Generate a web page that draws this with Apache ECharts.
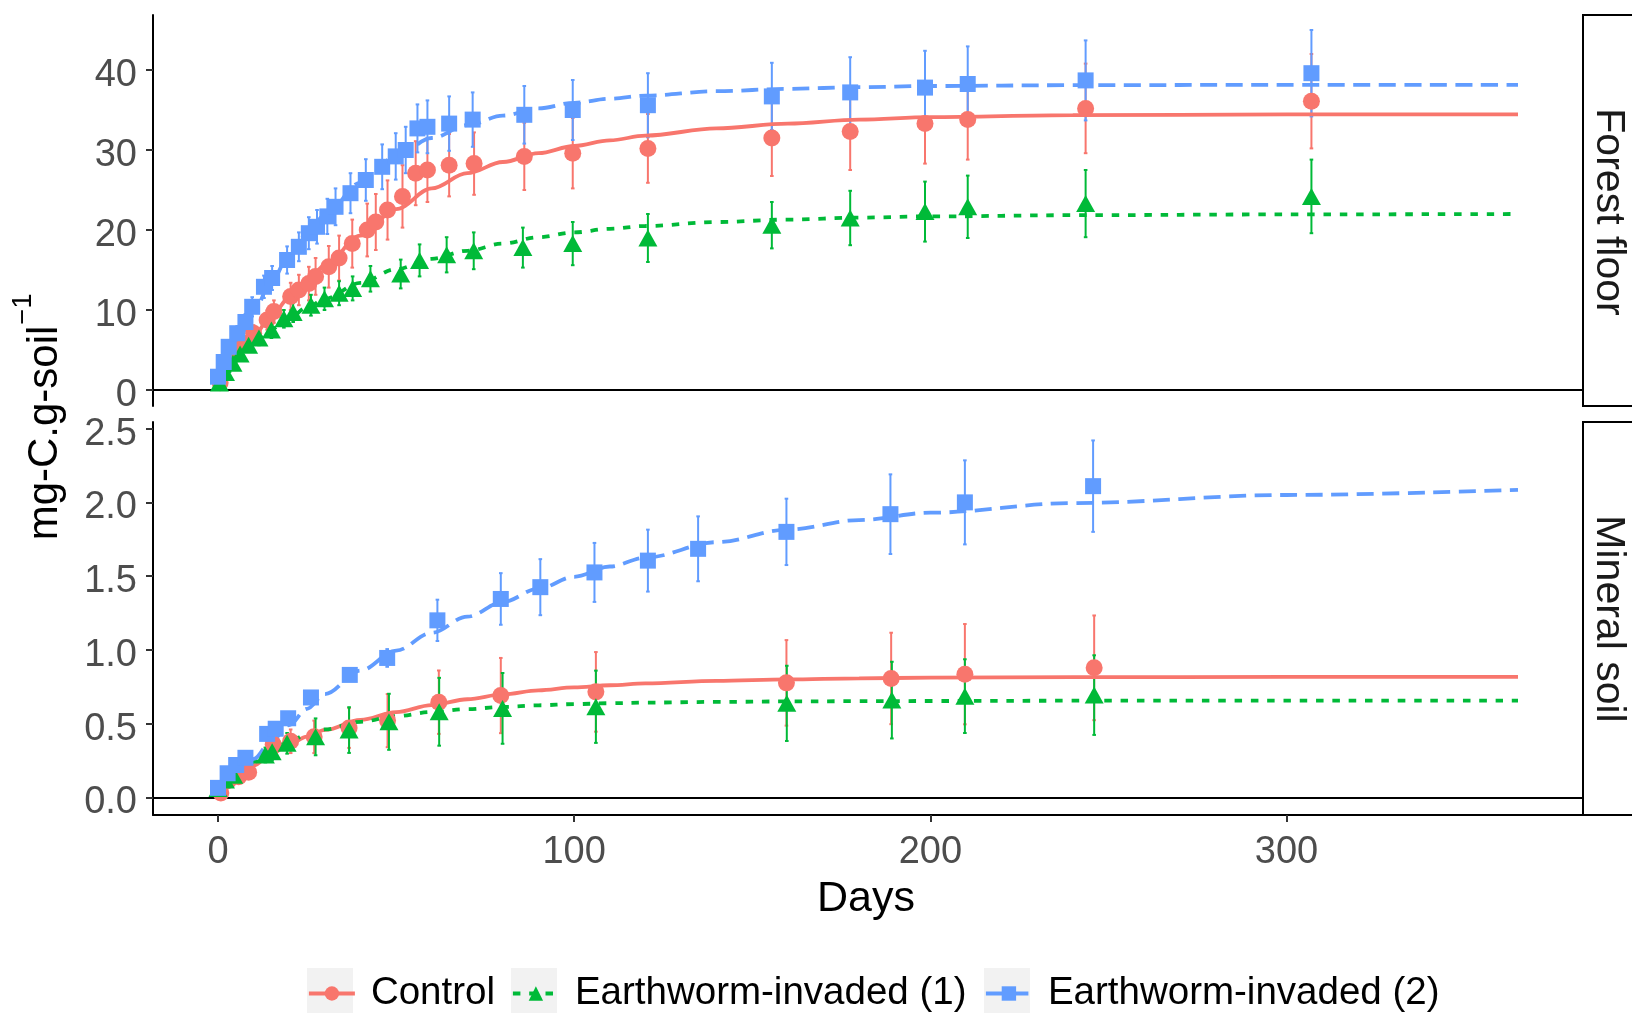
<!DOCTYPE html>
<html>
<head>
<meta charset="utf-8">
<script src="https://cdn.jsdelivr.net/npm/echarts@6/dist/echarts.min.js"></script>
<style>
  html, body { margin: 0; padding: 0; background: #ffffff; }
  #chart { width: 1632px; height: 1013px; }
</style>
</head>
<body>
<div id="chart"></div>
<script>
// ---------- axis ticks and labels ----------
const xTicks = [0, 100, 200, 300];
const forestTicks = [0, 10, 20, 30, 40];
const mineralTicks = [0, 0.5, 1.0, 1.5, 2.0, 2.5];
const treatmentNames = ['Control', 'Earthworm-invaded (1)', 'Earthworm-invaded (2)'];
const panelNames = ['Forest floor', 'Mineral soil'];

// ---------- Forest floor: cumulative C (mean, error half-width) ----------
const ffCtrlDays = [0.6, 2.5, 4.9, 7.7, 10, 13.8, 15.7, 20.4, 22.7, 25.5, 27.4, 31.1, 34, 37.7, 41.9, 44.3, 47.6, 51.8, 55.5, 58.8, 64.9, 71.9, 86, 99.6, 120.7, 155.5, 177.5, 198.5, 210.5, 243.6, 307];
const ffCtrlMean = [0.9, 3.75, 5.0, 5.8, 7.1, 8.75, 9.8, 11.7, 12.5, 13.3, 14.2, 15.4, 16.5, 18.3, 20.0, 21.0, 22.5, 24.2, 27.1, 27.5, 28.1, 28.3, 29.2, 29.6, 30.2, 31.5, 32.3, 33.3, 33.8, 35.2, 36.1];
const ffCtrlErr = [0.3, 0.5, 0.7, 0.8, 1.0, 1.2, 1.4, 1.7, 1.9, 2.1, 2.3, 2.6, 2.8, 3.0, 3.3, 3.5, 3.7, 3.9, 4.0, 4.0, 3.9, 3.9, 4.2, 4.4, 4.3, 4.75, 4.8, 5.0, 5.0, 5.6, 5.9];

const ffEw1Days = [0.4, 2.1, 4.2, 6.2, 8.6, 11.5, 15, 18.5, 21.1, 26.1, 29.9, 34, 37.8, 42.8, 51.3, 56.6, 64.2, 71.8, 85.6, 99.6, 120.7, 155.5, 177.5, 198.5, 210.5, 243.6, 307];
const ffEw1Mean = [0.87, 2.2, 3.35, 4.5, 5.6, 6.5, 7.5, 8.9, 9.7, 10.6, 11.4, 12.1, 12.7, 13.9, 14.5, 16.2, 16.9, 17.4, 17.8, 18.3, 19.0, 20.6, 21.5, 22.3, 22.9, 23.3, 24.2];
const ffEw1Err = [0.3, 0.5, 0.6, 0.7, 0.8, 0.9, 1.0, 1.1, 1.2, 1.3, 1.4, 1.5, 1.5, 1.6, 1.8, 2.0, 2.2, 2.3, 2.5, 2.7, 3.0, 2.9, 3.4, 3.75, 3.9, 4.2, 4.6];

const ffEw2Days = [0, 1.6, 3, 5.4, 7.7, 9.6, 12.9, 15.2, 19.4, 22.7, 25.5, 27.8, 30.7, 33, 37.2, 41.5, 46.1, 49.9, 52.7, 56, 58.8, 64.9, 71.5, 86, 99.6, 120.7, 155.5, 177.5, 198.5, 210.5, 243.6, 307];
const ffEw2Mean = [1.66, 3.5, 5.4, 7.1, 8.5, 10.4, 12.9, 14.0, 16.25, 17.9, 19.6, 20.4, 21.7, 22.9, 24.6, 26.25, 27.9, 29.2, 30.0, 32.7, 32.9, 33.3, 33.8, 34.4, 35.0, 35.6, 36.7, 37.2, 37.8, 38.25, 38.7, 39.6];
const ffEw2Err = [0.3, 0.5, 0.7, 0.9, 1.0, 1.2, 1.4, 1.5, 1.7, 1.8, 2.0, 2.1, 2.2, 2.3, 2.5, 2.6, 2.8, 2.9, 2.9, 3.0, 3.3, 3.4, 3.4, 3.6, 3.75, 4.0, 4.2, 4.4, 4.6, 4.7, 5.0, 5.4];

// ---------- Mineral soil: cumulative C (mean, error half-width) ----------
const msCtrlDays = [0.8, 3, 5.8, 8.6, 15.5, 20.4, 27, 36.8, 47.6, 62, 79.4, 106.1, 159.6, 189, 209.7, 246];
const msCtrlMean = [0.03, 0.115, 0.14, 0.17, 0.36, 0.38, 0.41, 0.47, 0.52, 0.645, 0.69, 0.715, 0.776, 0.806, 0.835, 0.878];
const msCtrlErr = [0.01, 0.02, 0.03, 0.035, 0.06, 0.08, 0.11, 0.135, 0.18, 0.215, 0.255, 0.27, 0.29, 0.31, 0.34, 0.355];

const msEw1Days = [0, 2.1, 4.4, 13.3, 15.2, 19.4, 27.4, 36.8, 48, 62.1, 79.9, 106.1, 159.7, 189.2, 209.7, 246];
const msEw1Mean = [0.06, 0.117, 0.15, 0.287, 0.309, 0.366, 0.41, 0.456, 0.512, 0.58, 0.603, 0.614, 0.637, 0.659, 0.686, 0.693];
const msEw1Err = [0.01, 0.02, 0.03, 0.05, 0.055, 0.07, 0.125, 0.155, 0.19, 0.23, 0.24, 0.245, 0.255, 0.26, 0.25, 0.27];

const msEw2Days = [0, 2.7, 5.1, 7.7, 13.8, 16.2, 19.7, 26.1, 37, 47.5, 61.6, 79.4, 90.5, 105.7, 120.7, 134.8, 159.6, 188.8, 209.7, 245.7];
const msEw2Mean = [0.064, 0.163, 0.219, 0.268, 0.43, 0.465, 0.536, 0.677, 0.83, 0.945, 1.2, 1.345, 1.425, 1.525, 1.605, 1.685, 1.8, 1.92, 2.0, 2.11];
const msEw2Err = [0.01, 0.015, 0.02, 0.02, 0.025, 0.03, 0.03, 0.035, 0.04, 0.06, 0.14, 0.175, 0.19, 0.2, 0.21, 0.22, 0.225, 0.27, 0.285, 0.31];

// ---------- fitted mineralisation curves ----------
const fitDays = [0, 3, 6, 10, 15, 20, 25, 30, 40, 50, 60, 70, 80, 90, 100, 110, 120, 140, 160, 180, 200, 240, 300, 365];
const ffCtrlFit = [0, 2.6, 4.7, 6.8, 9.3, 11.5, 13.6, 15.6, 19.3, 22.6, 25.2, 27.1, 28.5, 29.6, 30.5, 31.2, 31.8, 32.7, 33.3, 33.8, 34.1, 34.35, 34.45, 34.45];
const ffEw1Fit = [0, 2.3, 4.0, 5.9, 7.6, 9.0, 10.3, 11.4, 13.4, 15.1, 16.4, 17.4, 18.3, 19.1, 19.7, 20.15, 20.5, 21.0, 21.3, 21.55, 21.7, 21.85, 21.95, 22.0];
const ffEw2Fit = [0, 3.6, 6.5, 9.8, 13.6, 16.8, 19.5, 21.9, 25.9, 29.2, 31.5, 33.1, 34.3, 35.2, 35.9, 36.4, 36.8, 37.35, 37.65, 37.85, 38.0, 38.1, 38.15, 38.15];
const msCtrlFit = [0, 0.07, 0.135, 0.215, 0.295, 0.36, 0.412, 0.457, 0.525, 0.578, 0.625, 0.665, 0.698, 0.725, 0.745, 0.76, 0.772, 0.789, 0.8, 0.807, 0.811, 0.815, 0.816, 0.816];
const msEw1Fit = [0, 0.09, 0.16, 0.24, 0.32, 0.38, 0.425, 0.46, 0.512, 0.55, 0.578, 0.598, 0.613, 0.624, 0.632, 0.638, 0.642, 0.647, 0.65, 0.652, 0.653, 0.655, 0.656, 0.656];
const msEw2Fit = [0, 0.08, 0.16, 0.26, 0.38, 0.49, 0.60, 0.70, 0.86, 0.995, 1.115, 1.225, 1.325, 1.415, 1.495, 1.565, 1.625, 1.73, 1.815, 1.88, 1.93, 1.995, 2.05, 2.085];

// ---------- styling ----------
const FONT = '"Liberation Sans", Arial, sans-serif';
const colors = ['#F8766D', '#00BA38', '#619CFF'];
const symbols = ['circle', 'triangle', 'rect'];
const symbolSizes = [17, [19, 17], 16];
const dashes = ['solid', [7.5, 8.8], [17, 8.5]];

const obs = [
  [[ffCtrlDays, ffCtrlMean, ffCtrlErr], [ffEw1Days, ffEw1Mean, ffEw1Err], [ffEw2Days, ffEw2Mean, ffEw2Err]],
  [[msCtrlDays, msCtrlMean, msCtrlErr], [msEw1Days, msEw1Mean, msEw1Err], [msEw2Days, msEw2Mean, msEw2Err]]
];
const fits = [[ffCtrlFit, ffEw1Fit, ffEw2Fit], [msCtrlFit, msEw1Fit, msEw2Fit]];

function errorBarItem(params, api) {
  const x = api.value(0);
  const pLo = api.coord([x, api.value(1)]);
  const pHi = api.coord([x, api.value(2)]);
  const cap = 1.8;
  const style = { stroke: api.visual('color'), lineWidth: 2, fill: null };
  return {
    type: 'group',
    children: [
      { type: 'line', shape: { x1: pHi[0], y1: pHi[1], x2: pLo[0], y2: pLo[1] }, style: style },
      { type: 'line', shape: { x1: pHi[0] - cap, y1: pHi[1], x2: pHi[0] + cap, y2: pHi[1] }, style: style },
      { type: 'line', shape: { x1: pLo[0] - cap, y1: pLo[1], x2: pLo[0] + cap, y2: pLo[1] }, style: style }
    ]
  };
}

const series = [];
// fitted curves first, so that legend icons show line + symbol
for (let p = 0; p < 2; p++) {
  for (let t = 0; t < 3; t++) {
    const s = {
      type: 'line',
      name: treatmentNames[t],
      xAxisIndex: p,
      yAxisIndex: p,
      data: fitDays.map((d, i) => [d, fits[p][t][i]]),
      smooth: 0.35,
      smoothMonotone: 'x',
      showSymbol: false,
      symbol: symbols[t],
      symbolSize: 14,
      itemStyle: { color: colors[t] },
      lineStyle: { color: colors[t], width: 3.8, type: dashes[t], cap: 'butt' },
      silent: true,
      z: 3
    };
    if (t === 0) {
      s.markLine = {
        silent: true,
        symbol: ['none', 'none'],
        label: { show: false },
        lineStyle: { color: '#000000', width: 2, type: 'solid' },
        data: [{ yAxis: 0 }],
        z: 1
      };
    }
    series.push(s);
  }
}
for (let p = 0; p < 2; p++) {
  for (let t = 0; t < 3; t++) {
    const [days, mean, err] = obs[p][t];
    series.push({
      type: 'custom',
      name: treatmentNames[t],
      xAxisIndex: p,
      yAxisIndex: p,
      renderItem: errorBarItem,
      itemStyle: { color: colors[t] },
      encode: { x: 0, y: [1, 2] },
      data: days.map((d, i) => [d, mean[i] - err[i], mean[i] + err[i]]),
      silent: true,
      z: 2
    });
  }
}
for (let p = 0; p < 2; p++) {
  for (let t = 0; t < 3; t++) {
    const [days, mean] = obs[p][t];
    series.push({
      type: 'scatter',
      name: treatmentNames[t],
      xAxisIndex: p,
      yAxisIndex: p,
      symbol: symbols[t],
      symbolSize: symbolSizes[t],
      itemStyle: { color: colors[t], opacity: 1 },
      data: days.map((d, i) => [d, mean[i]]),
      silent: true,
      z: 4
    });
  }
}

const axisLineStyle = { color: '#000000', width: 2 };
const tickStyle = { color: '#333333', width: 2 };
const labelBase = { fontFamily: FONT, fontSize: 38, color: '#4D4D4D' };
// y labels sit a few pixels below their tick, as the text box is centred with its descent
const yLabelBase = Object.assign({ margin: 16, verticalAlign: 'top', lineHeight: 11 }, labelBase);

const xAxisBase = { type: 'value', min: -18.25, max: 383.25, splitLine: { show: false } };
const legendKeys = [307, 511, 984];

const option = {
  animation: false,
  backgroundColor: '#ffffff',
  textStyle: { fontFamily: FONT },
  grid: [
    { left: 153, top: 15, width: 1430, height: 391, outerBoundsMode: 'none' },
    { left: 153, top: 422, width: 1430, height: 393, outerBoundsMode: 'none' }
  ],
  xAxis: [
    Object.assign({}, xAxisBase, {
      gridIndex: 0,
      axisLine: { show: false },
      axisTick: { show: false },
      axisLabel: { show: false }
    }),
    Object.assign({}, xAxisBase, {
      gridIndex: 1,
      axisLine: { show: true, onZero: false, lineStyle: axisLineStyle },
      axisTick: { show: true, customValues: xTicks, length: 7, lineStyle: tickStyle },
      axisLabel: Object.assign({ customValues: xTicks, margin: 19 }, labelBase)
    })
  ],
  yAxis: [
    {
      type: 'value', gridIndex: 0, min: -2, max: 46.875,
      splitLine: { show: false },
      axisLine: { show: true, onZero: false, lineStyle: axisLineStyle },
      axisTick: { show: true, customValues: forestTicks, length: 7, lineStyle: tickStyle },
      axisLabel: Object.assign({ customValues: forestTicks }, yLabelBase)
    },
    {
      type: 'value', gridIndex: 1, min: -0.12, max: 2.545,
      splitLine: { show: false },
      axisLine: { show: true, onZero: false, lineStyle: axisLineStyle },
      axisTick: { show: true, customValues: mineralTicks, length: 7, lineStyle: tickStyle },
      axisLabel: Object.assign({
        customValues: mineralTicks,
        formatter: v => Number(v).toFixed(1)
      }, yLabelBase)
    }
  ],
  legend: treatmentNames.map((n, i) => ({
    data: [n],
    left: legendKeys[i],
    top: 974,
    padding: 0,
    itemWidth: 46,
    itemHeight: 18,
    selectedMode: false,
    lineStyle: { width: 3.8 },
    textStyle: { fontFamily: FONT, fontSize: 38.5, color: '#000000', padding: [0, 0, 0, 11] }
  })),
  graphic: [
    // legend key backgrounds
    ...legendKeys.map(x => ({
      type: 'rect', z: -1, silent: true,
      shape: { x: x, y: 968, width: 46, height: 46 },
      style: { fill: '#F2F2F2' }
    })),
    // facet strips
    {
      type: 'rect', silent: true,
      shape: { x: 1583, y: 15, width: 80, height: 391 },
      style: { fill: '#ffffff', stroke: '#000000', lineWidth: 2 }
    },
    {
      type: 'rect', silent: true,
      shape: { x: 1583, y: 422, width: 80, height: 393 },
      style: { fill: '#ffffff', stroke: '#000000', lineWidth: 2 }
    },
    {
      type: 'text', silent: true, x: 1608, y: 212, rotation: -Math.PI / 2,
      style: { text: panelNames[0], font: '41px ' + FONT, fill: '#1A1A1A', align: 'center', verticalAlign: 'middle' }
    },
    {
      type: 'text', silent: true, x: 1608, y: 619, rotation: -Math.PI / 2,
      style: { text: panelNames[1], font: '41px ' + FONT, fill: '#1A1A1A', align: 'center', verticalAlign: 'middle' }
    },
    // axis titles
    {
      type: 'text', silent: true, x: 866, y: 899,
      style: { text: 'Days', font: '43px ' + FONT, fill: '#000000', align: 'center', verticalAlign: 'middle' }
    },
    {
      type: 'text', silent: true, x: 45.5, y: 433, rotation: Math.PI / 2,
      style: { text: 'mg-C.g-soil', font: '42px ' + FONT, fill: '#000000', align: 'center', verticalAlign: 'middle' }
    },
    {
      type: 'text', silent: true, x: 23.6, y: 309, rotation: Math.PI / 2,
      style: { text: '\u22121', font: '27px ' + FONT, fill: '#000000', align: 'center', verticalAlign: 'middle' }
    }
  ],
  series: series
};

const chart = echarts.init(document.getElementById('chart'), null, { renderer: 'canvas' });
chart.setOption(option);
</script>
</body>
</html>
